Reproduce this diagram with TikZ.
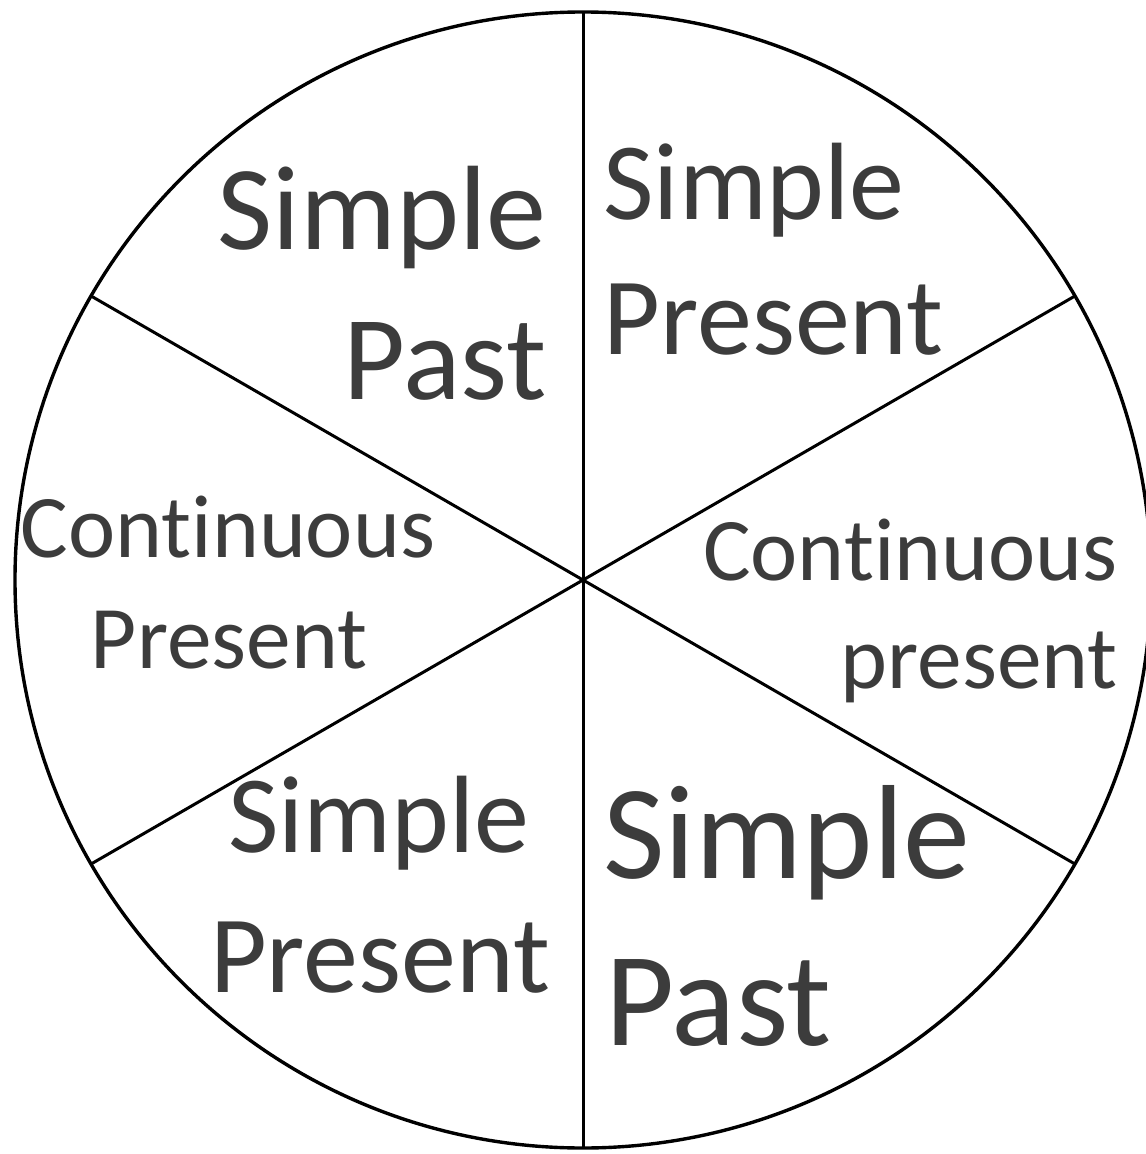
\documentclass[tikz,border=0pt]{standalone}
\usepackage{fontspec}
\setmainfont{Carlito}[Ligatures=NoCommon]
\usepackage{xcolor}
\definecolor{txtgray}{HTML}{3C3C3C}

\begin{document}
\begin{tikzpicture}[x=0.5pt,y=-0.5pt,
    word/.style={text=txtgray,inner sep=0pt},
    bigword/.style={word,font=\fontsize{67}{80}\selectfont},
    topword/.style={word,font=\fontsize{60}{72}\selectfont},
    midword/.style={word,font=\fontsize{55}{66}\selectfont},
    smallword/.style={word,font=\fontsize{44.7}{54}\selectfont}]
  \useasboundingbox (0,0) rectangle (1145,1154);
  % ---------- the wheel and its six sectors ----------
  \node[draw,circle,line width=1.7pt,minimum size=568pt,inner sep=0pt,outer sep=0pt] (wheel) at (583,580) {};
  \foreach \a/\b in {90/270,30/210,150/330}
    \draw[line width=1.5pt] (wheel.\a) -- (wheel.\b);
  % ---------- upper sectors ----------
  \node[topword,anchor=base east] (pastA) at (547,250) {Simple};
  \node[topword,anchor=base east] (pastB) at (547,400) {Past};
  \node[midword,anchor=base west] (presA) at (603,220) {Simple};
  \node[midword,anchor=base west] (presB) at (603,355) {Present};
  % ---------- side sectors ----------
  \node[smallword,anchor=base] (contA) at (228,557) {Continuous};
  \node[smallword,anchor=base] (contB) at (229,668) {Present};
  \node[smallword,anchor=base east] (contC) at (1118,580) {Continuous};
  \node[smallword,anchor=base east] (contD) at (1118,688) {present};
  % ---------- lower sectors ----------
  \node[midword,anchor=base] (presC) at (379,852) {Simple};
  \node[midword,anchor=base] (presD) at (380,992) {Present};
  \node[bigword,anchor=base west] (pastC) at (603,878) {Simple};
  \node[bigword,anchor=base west] (pastD) at (605,1045) {Past};
\end{tikzpicture}
\end{document}
